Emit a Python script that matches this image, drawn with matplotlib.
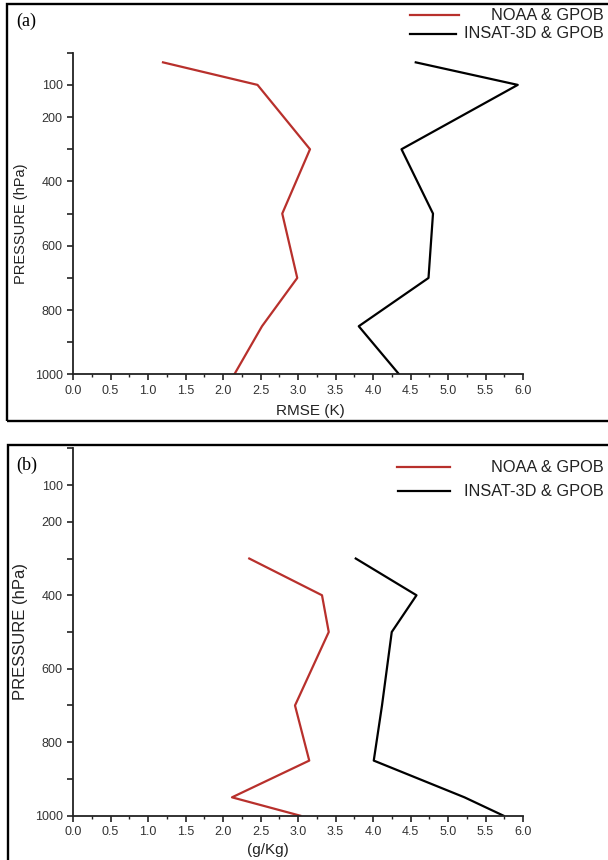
import matplotlib
matplotlib.use("Agg")
import matplotlib.pyplot as plt
from matplotlib.patches import Rectangle
from matplotlib.lines import Line2D

plt.rcParams['font.family'] = ['Liberation Sans', 'DejaVu Sans']

# ---- data ----
pres_a = [30, 100, 300, 500, 700, 850, 1000]
noaa_a = [1.20, 2.46, 3.16, 2.79, 2.99, 2.52, 2.15]
insat_a = [4.57, 5.93, 4.38, 4.80, 4.74, 3.81, 4.35]

pres_b = [300, 400, 500, 700, 850, 950, 1000]
noaa_b = [2.35, 3.32, 3.41, 2.96, 3.15, 2.12, 3.03]
pres_b2 = [300, 400, 500, 700, 850, 950, 1000]
insat_b = [3.77, 4.58, 4.25, 4.12, 4.01, 5.22, 5.74]

xticks = [0.0, 0.5, 1.0, 1.5, 2.0, 2.5, 3.0, 3.5, 4.0, 4.5, 5.0, 5.5, 6.0]
yticks_all = [0, 100, 200, 300, 400, 500, 600, 700, 800, 900, 1000]
ylabels_shown = {100: '100', 200: '200', 400: '400', 600: '600', 800: '800', 1000: '1000'}
labels = ['NOAA & GPOB', 'INSAT-3D & GPOB']
red = '#b8302c'
W, H = 608, 860

fig = plt.figure(figsize=(W / 100, H / 100), dpi=100)

def fx(px):
    return px / W

def fy(py):
    return 1 - py / H

def style_axes(ax):
    ax.set_xlim(0, 6)
    ax.set_ylim(1000, 0)
    ax.spines['top'].set_visible(False)
    ax.spines['right'].set_visible(False)
    for s in ('left', 'bottom'):
        ax.spines[s].set_linewidth(1.3)
        ax.spines[s].set_color('#222222')
    ax.set_xticks(xticks)
    ax.set_xticklabels([f'{v:.1f}' for v in xticks])
    ax.set_xticks([v + 0.25 for v in xticks[:-1]], minor=True)
    ax.set_yticks(yticks_all)
    ax.set_yticklabels([ylabels_shown.get(v, '') for v in yticks_all])
    ax.tick_params(axis='both', which='major', direction='out', length=4.5, width=1.2,
                   colors='#222222', labelsize=9, labelcolor='#333333', pad=3)
    ax.tick_params(axis='x', which='minor', direction='out', length=2.5, width=1.0, colors='#222222')

# frames
fig.patches.append(Rectangle((fx(7), fy(421)), fx(620) - fx(7), fy(4) - fy(421),
                             transform=fig.transFigure, fill=False, lw=1.7, ec='black'))
fig.patches.append(Rectangle((fx(7.5), fy(880)), fx(620) - fx(7.5), fy(445) - fy(880),
                             transform=fig.transFigure, fill=False, lw=1.7, ec='black'))

# panel (a)
ax1 = fig.add_axes([fx(73), fy(374.5), fx(523) - fx(73), fy(52.7) - fy(374.5)])
ax1.plot(noaa_a, pres_a, color=red, lw=1.6)
ax1.plot(insat_a, pres_a, color='black', lw=1.6)
style_axes(ax1)

# panel (b)
ax2 = fig.add_axes([fx(73), fy(815.7), fx(523) - fx(73), fy(448.3) - fy(815.7)])
ax2.plot(noaa_b, pres_b, color=red, lw=1.6)
ax2.plot(insat_b, pres_b2, color='black', lw=1.6)
style_axes(ax2)

# axis labels
fig.text(fx(21), fy(224), 'PRESSURE (hPa)', rotation=90, ha='center', va='center', fontsize=10.5, color='#222222')
fig.text(fx(21), fy(632), 'PRESSURE (hPa)', rotation=90, ha='center', va='center', fontsize=12, color='#222222')
fig.text(fx(310), fy(410.5), 'RMSE (K)', ha='center', va='center', fontsize=11, color='#222222')
fig.text(fx(268), fy(850), '(g/Kg)', ha='center', va='center', fontsize=11, color='#222222')

# panel tags
fig.text(fx(16), fy(21), '(a)', ha='left', va='center', fontsize=13, family='Liberation Serif')
fig.text(fx(16), fy(465), '(b)', ha='left', va='center', fontsize=13, family='Liberation Serif')

# legends
def legend(y1, y2, xr1, xr2, xb1, xb2):
    fig.lines.append(Line2D([fx(xr1), fx(xr2)], [fy(y1), fy(y1)], transform=fig.transFigure, color=red, lw=1.6))
    fig.lines.append(Line2D([fx(xb1), fx(xb2)], [fy(y2), fy(y2)], transform=fig.transFigure, color='black', lw=1.6))
    fig.text(fx(604), fy(y1), labels[0], ha='right', va='center', fontsize=11.8, color='#222222')
    fig.text(fx(604), fy(y2), labels[1], ha='right', va='center', fontsize=11.8, color='#222222')

legend(15, 34, 410, 459, 410, 456)
legend(467, 491, 397, 450, 398, 450)

fig.savefig('out.png', dpi=100)
